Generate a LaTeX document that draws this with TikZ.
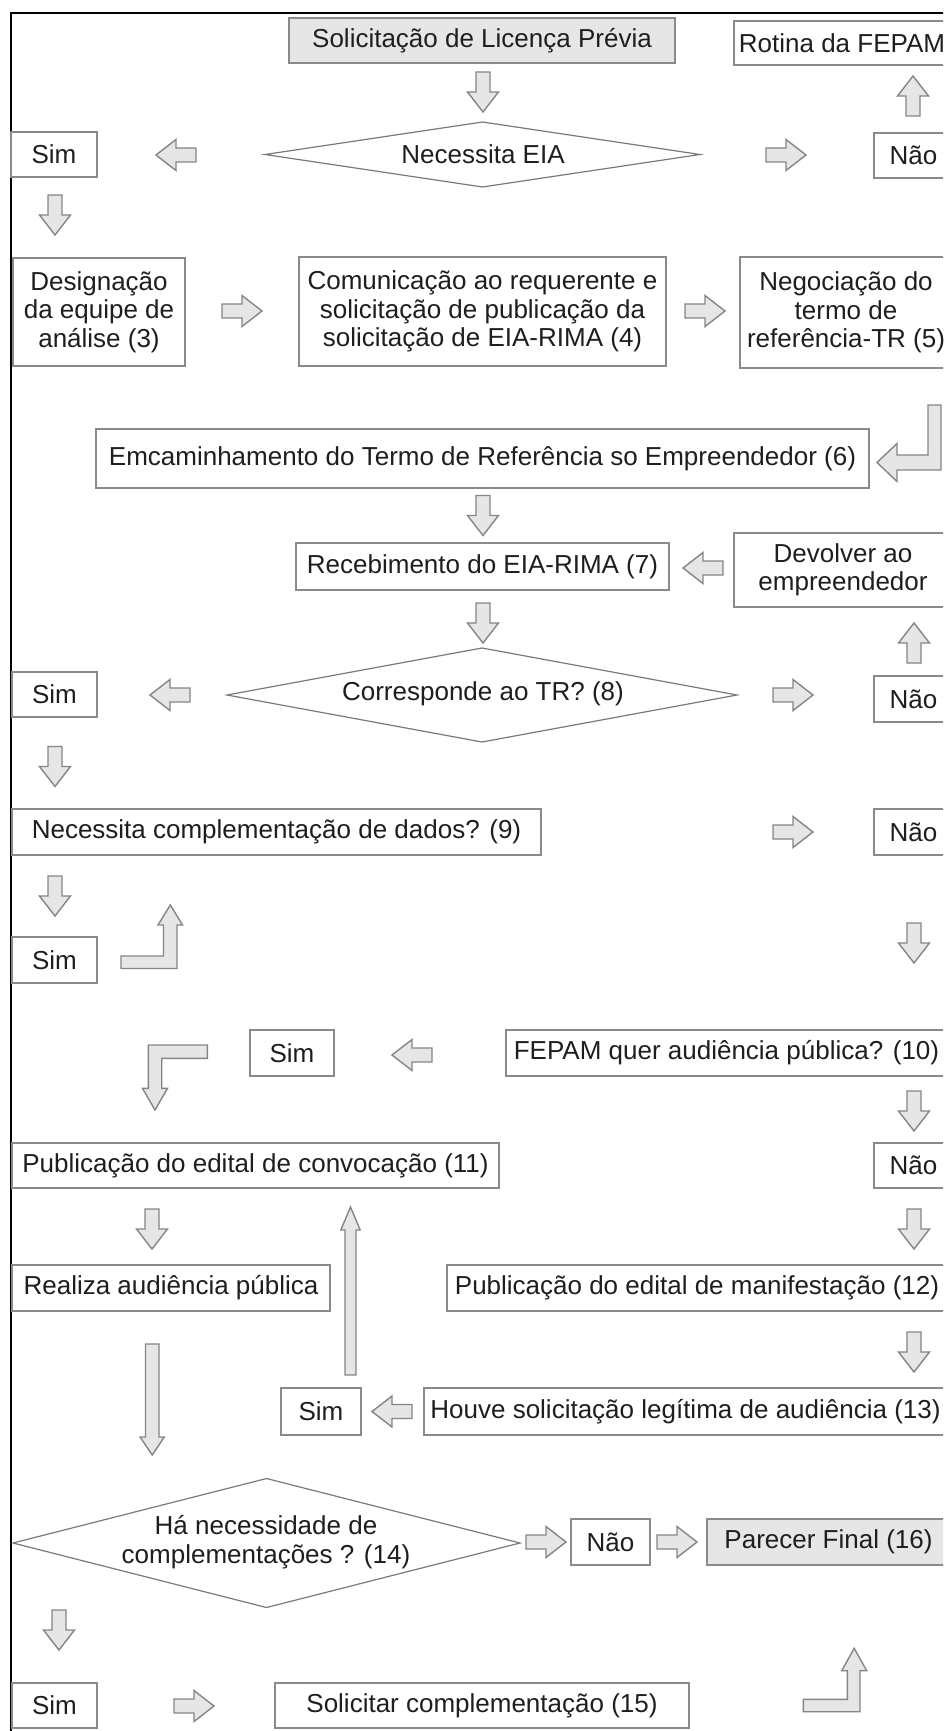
\documentclass[tikz,border=0pt]{standalone}
\usepackage{fontspec}
\setmainfont{Liberation Sans}
\usetikzlibrary{shapes.geometric}
\definecolor{boxline}{HTML}{8A8A8A}
\definecolor{dialine}{HTML}{7A7A7A}
\definecolor{arrfill}{HTML}{E6E6E6}
\definecolor{arrline}{HTML}{858585}
\definecolor{grayfill}{HTML}{E6E6E6}
\definecolor{txt}{HTML}{1E1E1E}
\tikzset{
  box/.style={draw=boxline, line width=1.4pt, fill=white, inner sep=0pt, align=center, text=txt, font=\fontsize{26}{28.5}\selectfont},
  graybox/.style={box, fill=grayfill},
  dia/.style={diamond, draw=dialine, line width=1.2pt, inner sep=0pt, outer sep=0pt},
  lbl/.style={inner sep=0pt, align=center, text=txt, font=\fontsize{26}{28.5}\selectfont},
  blk/.style={draw=arrline, fill=arrfill, line width=1.4pt, line join=miter},
}
% box from corners: style, name, left, top, right, bottom, text
\newcommand{\bx}[7]{\node[#1, minimum width={#5-#3}, minimum height={#6-#4}] (#2) at ({(#3+#5)/2},{(#4+#6)/2}) {#7};}
% standard block arrow: centre x, centre y, direction angle
\newcommand{\barr}[3]{\draw[blk, shift={(#1,#2)}, rotate=#3] (-20,-7) -- (0,-7) -- (0,-15.5) -- (20,0) -- (0,15.5) -- (0,7) -- (-20,7) -- cycle;}
\begin{document}
\begin{tikzpicture}[x=1pt, y=-1pt]
\useasboundingbox (0,0) rectangle (943,1731);
\clip (0,0) rectangle (943,1731);
\fill[white] (0,0) rectangle (943,1731);
% frame
\draw[black, line width=1.5pt] (950,13) -- (11,13) -- (11,1740);

% ---- row 1
\bx{graybox}{slp}{289}{18}{675}{63}{Solicitação de Licença Prévia}
\bx{box}{rot}{734}{21}{950}{65}{Rotina da FEPAM}
\node[dia, minimum width=435, minimum height=65] (d1) at (482.5,154.5) {};
\node[lbl] (d1t) at (483,154) {Necessita EIA};
\bx{box}{sim1}{11}{132}{97}{177}{Sim}
\bx{box}{nao1}{874}{133}{953}{178}{Não}
\barr{483}{92}{270}
\barr{176}{155}{180}
\barr{786}{155}{0}
\barr{913}{96}{90}
\barr{55}{215}{270}

% ---- row 3
\bx{box}{des}{13}{258}{185}{366}{Designação\\da equipe de\\análise (3)}
\bx{box}{com}{299}{257}{666}{366}{Comunicação ao requerente e\\solicitação de publicação da\\solicitação de EIA-RIMA (4)}
\bx{box}{neg}{740}{257}{952}{368}{Negociação do\\termo de\\referência-TR (5)}
\barr{242}{311}{0}
\barr{705}{311}{0}

% bent arrow neg -> emc
\draw[blk] (928,405) -- (941,405) -- (941,470) -- (897,470) -- (897,481.5) -- (877,462.5) -- (897,443.5) -- (897,455) -- (928,455) -- cycle;
\bx{box}{emc}{96}{429}{869}{488}{Emcaminhamento do Termo de Referência so Empreendedor (6)}
\barr{483}{515.5}{270}
\bx{box}{rec}{296}{543}{669}{590}{Recebimento do EIA-RIMA (7)}
\bx{box}{dev}{734}{533}{952}{607}{Devolver ao\\empreendedor}
\barr{703}{568}{180}
\barr{483}{623}{270}
\barr{914}{643}{90}

% ---- corresponde
\node[dia, minimum width=510, minimum height=94] (d2) at (482,695) {};
\node[lbl] (d2t) at (483,694) {Corresponde ao TR? (8)};
\bx{box}{sim2}{12}{672}{97}{717}{Sim}
\bx{box}{nao2}{874}{676}{953}{722}{Não}
\barr{170}{695}{180}
\barr{793}{695}{0}
\barr{55}{766.5}{270}

% ---- complementacao
\bx{box}{ncd}{12}{809}{541}{855}{Necessita complementação de dados? (9)}
\bx{box}{nao3}{874}{809}{953}{855}{Não}
\barr{793}{832}{0}
\barr{55}{896}{270}
\bx{box}{sim3}{12}{937}{97}{983}{Sim}
\draw[blk] (121,956) -- (163.5,956) -- (163.5,925) -- (158,925) -- (170.3,905) -- (182.6,925) -- (177,925) -- (177,968.5) -- (121,968.5) -- cycle;
\barr{914}{943}{270}

% ---- FEPAM
\bx{box}{fep}{506}{1030}{947}{1076}{FEPAM quer audiência pública? (10)}
\bx{box}{sim4}{250}{1030}{334}{1076}{Sim}
\barr{412}{1055}{180}
\draw[blk] (207.3,1045) -- (148.3,1045) -- (148.3,1088.3) -- (142.5,1088.3) -- (155,1110) -- (167.5,1088.3) -- (161.7,1088.3) -- (161.7,1058.3) -- (207.3,1058.3) -- cycle;
\barr{914}{1111}{270}

% ---- publicacao
\bx{box}{pub}{12}{1143}{499}{1188}{Publicação do edital de convocação (11)}
\bx{box}{nao4}{874}{1143}{953}{1188}{Não}
\barr{152}{1229}{270}
\barr{914}{1229}{270}
\draw[blk] (345,1375) -- (345,1230) -- (340.8,1230) -- (350.5,1207) -- (360.2,1230) -- (356,1230) -- (356,1375) -- cycle;
\bx{box}{rea}{12}{1265}{330}{1311}{Realiza audiência pública}
\bx{box}{man}{447}{1265}{947}{1311}{Publicação do edital de manifestação (12)}
\draw[blk] (145.5,1344) -- (159,1344) -- (159,1437) -- (164.3,1437) -- (152.2,1455) -- (140.1,1437) -- (145.5,1437) -- cycle;
\barr{914}{1352}{270}
\bx{box}{sim5}{281}{1388}{361}{1435}{Sim}
\bx{box}{hou}{424}{1388}{947}{1435}{Houve solicitação legítima de audiência (13)}
\barr{392}{1411.5}{180}

% ---- final
\node[dia, minimum width=507, minimum height=129] (d3) at (266.5,1543) {};
\node[lbl] (d3t) at (266,1542) {Há necessidade de\\complementações ? (14)};
\bx{box}{nao5}{571}{1519}{650}{1565}{Não}
\bx{graybox}{par}{707}{1519}{950}{1565}{Parecer Final (16)}
\barr{546}{1542}{0}
\barr{677}{1542}{0}
\barr{59}{1630}{270}
\bx{box}{sim6}{12}{1683}{97}{1728}{Sim}
\bx{box}{sol}{275}{1683}{689}{1728}{Solicitar complementação (15)}
\barr{194}{1706}{0}
\draw[blk] (803.3,1699.3) -- (847.3,1699.3) -- (847.3,1670.7) -- (841.7,1670.7) -- (854.2,1648.3) -- (866.7,1670.7) -- (860,1670.7) -- (860,1711.7) -- (803.3,1711.7) -- cycle;
\end{tikzpicture}
\end{document}
